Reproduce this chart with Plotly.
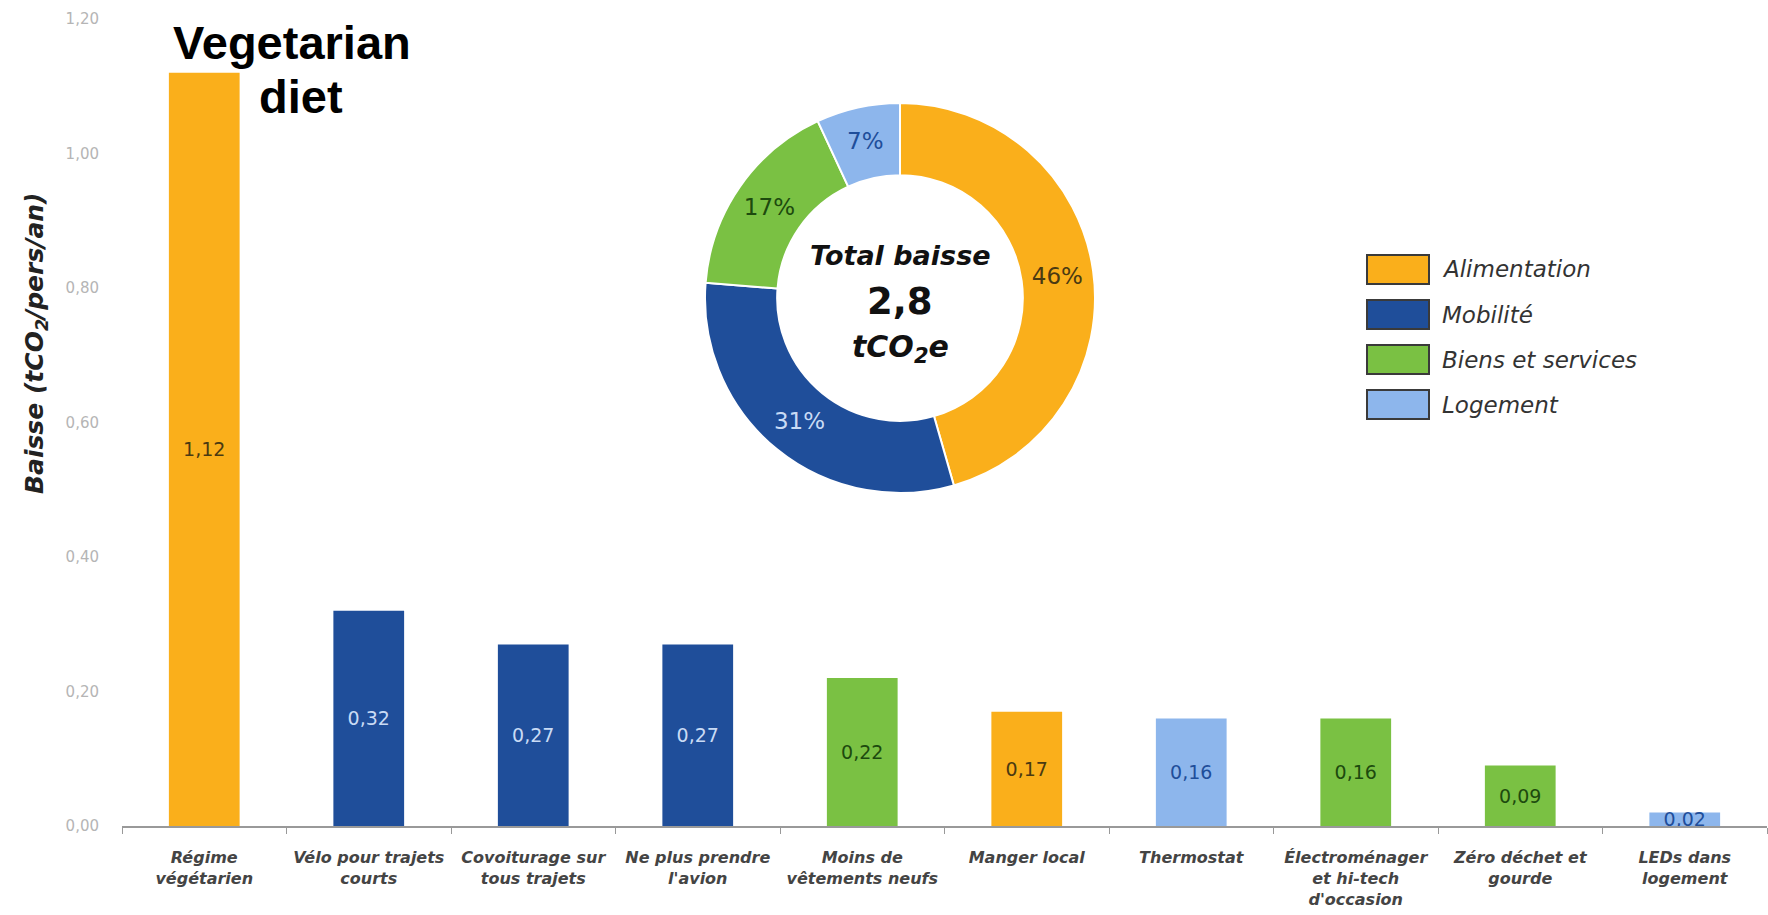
import plotly.graph_objects as go

# --- Data -------------------------------------------------------------------
actions = [
    "Régime<br>végétarien",
    "Vélo pour trajets<br>courts",
    "Covoiturage sur<br>tous trajets",
    "Ne plus prendre<br>l'avion",
    "Moins de<br>vêtements neufs",
    "Manger local",
    "Thermostat",
    "Électroménager<br>et hi-tech<br>d'occasion",
    "Zéro déchet et<br>gourde",
    "LEDs dans<br>logement",
]
reductions = [1.12, 0.32, 0.27, 0.27, 0.22, 0.17, 0.16, 0.16, 0.09, 0.02]
action_sector = [
    "Alimentation", "Mobilité", "Mobilité", "Mobilité", "Biens et services",
    "Alimentation", "Logement", "Biens et services", "Biens et services", "Logement",
]

sectors = ["Alimentation", "Mobilité", "Biens et services", "Logement"]
sector_shares = [46, 31, 17, 7]

y_ticks = [0.0, 0.2, 0.4, 0.6, 0.8, 1.0, 1.2]

# --- Styling ----------------------------------------------------------------
W, H = 1768, 915
ML, MR, MT, MB = 122, 1, 19, 89
PW, PH = W - ML - MR, H - MT - MB

FONT = "DejaVu Sans"

fill = {
    "Alimentation": "#FAAF1B",
    "Mobilité": "#1F4E9A",
    "Biens et services": "#7AC143",
    "Logement": "#8DB6EC",
}
ink = {
    "Alimentation": "#4A3A12",
    "Mobilité": "#C9DBF5",
    "Biens et services": "#1D4A0E",
    "Logement": "#1F4E9A",
}


def px_x(x):
    return (x - ML) / PW


def px_y(y):
    return (H - MB - y) / PH


fig = go.Figure()

fig.add_trace(go.Bar(
    x=actions,
    y=reductions,
    marker=dict(color=[fill[s] for s in action_sector], line=dict(width=0)),
    texttemplate="%{y:.2f}",
    textposition="inside",
    insidetextanchor="middle",
    constraintext="none",
    textfont=dict(family=FONT, size=19, color=[ink[s] for s in action_sector]),
    showlegend=False,
    hoverinfo="skip",
))

# Donut of the share per sector
cx, cy, r = 900, 298, 195
fig.add_trace(go.Pie(
    labels=sectors,
    values=sector_shares,
    hole=0.63,
    sort=False,
    direction="clockwise",
    rotation=0,
    marker=dict(colors=[fill[s] for s in sectors], line=dict(color="white", width=2)),
    texttemplate="%{value}%",
    textposition="inside",
    insidetextorientation="horizontal",
    textfont=dict(family=FONT, size=23, color=[ink[s] for s in sectors]),
    domain=dict(x=[px_x(cx - r), px_x(cx + r)], y=[px_y(cy + r), px_y(cy - r)]),
    showlegend=False,
    hoverinfo="skip",
))

annotations = [
    dict(x=px_x(cx), y=px_y(255), text="<b><i>Total baisse</i></b>",
         font=dict(family=FONT, size=27, color="#111")),
    dict(x=px_x(cx), y=px_y(301), text="<b>2,8</b>",
         font=dict(family=FONT, size=37, color="#111")),
    dict(x=px_x(cx), y=px_y(348), text="<b><i>tCO<sub>2</sub>e</i></b>",
         font=dict(family=FONT, size=30, color="#111")),
    dict(x=px_x(36), y=px_y(343), text="<b><i>Baisse (tCO<sub>2</sub>/pers/an)</i></b>",
         textangle=-90, font=dict(family=FONT, size=25, color="#222")),
    dict(x=px_x(292), y=px_y(43), text="<b>Vegetarian</b>",
         font=dict(family="Liberation Sans", size=47, color="#000")),
    dict(x=px_x(301), y=px_y(97), text="<b>diet</b>",
         font=dict(family="Liberation Sans", size=47, color="#000")),
]
for a in annotations:
    a.setdefault("xref", "paper")
    a.setdefault("yref", "paper")
    a.setdefault("showarrow", False)
    a.setdefault("xanchor", "center")
    a.setdefault("yanchor", "middle")

# Legend drawn as outlined swatches with italic labels
shapes = []
box_x0, box_x1, box_top, box_h, pitch = 1367, 1429, 255, 29, 45
for i, s in enumerate(sectors):
    y0 = box_top + i * pitch
    shapes.append(dict(
        type="rect", xref="paper", yref="paper",
        x0=px_x(box_x0), x1=px_x(box_x1), y0=px_y(y0 + box_h), y1=px_y(y0),
        fillcolor=fill[s], line=dict(color="#3A3A3A", width=2),
    ))
    annotations.append(dict(
        xref="paper", yref="paper", showarrow=False,
        x=px_x(1440), y=px_y(y0 + box_h / 2), xanchor="left", yanchor="middle",
        text=f"<i>{s}</i>", font=dict(family=FONT, size=23, color="#333"),
    ))

fig.update_layout(
    width=W, height=H,
    margin=dict(l=ML, r=MR, t=MT, b=MB),
    paper_bgcolor="white", plot_bgcolor="white",
    separators=", ",
    bargap=0.57,
    annotations=annotations,
    shapes=shapes,
    xaxis=dict(
        type="category",
        showgrid=False,
        showline=True, linecolor="#999", linewidth=2,
        ticks="outside", tickson="boundaries", ticklen=6, tickcolor="#999",
        tickangle=0,
        tickfont=dict(family=FONT, size=16, color="#444", style="italic", weight="bold"),
        ticklabelstandoff=16,
        fixedrange=True,
    ),
    yaxis=dict(
        range=[0, 1.2],
        tickvals=y_ticks,
        tickformat=".2f",
        showgrid=False, zeroline=False, showline=False,
        tickfont=dict(family=FONT, size=15, color="#B5B5B5"),
        ticklabelstandoff=22,
        fixedrange=True,
    ),
)

fig.write_html("out.html")
